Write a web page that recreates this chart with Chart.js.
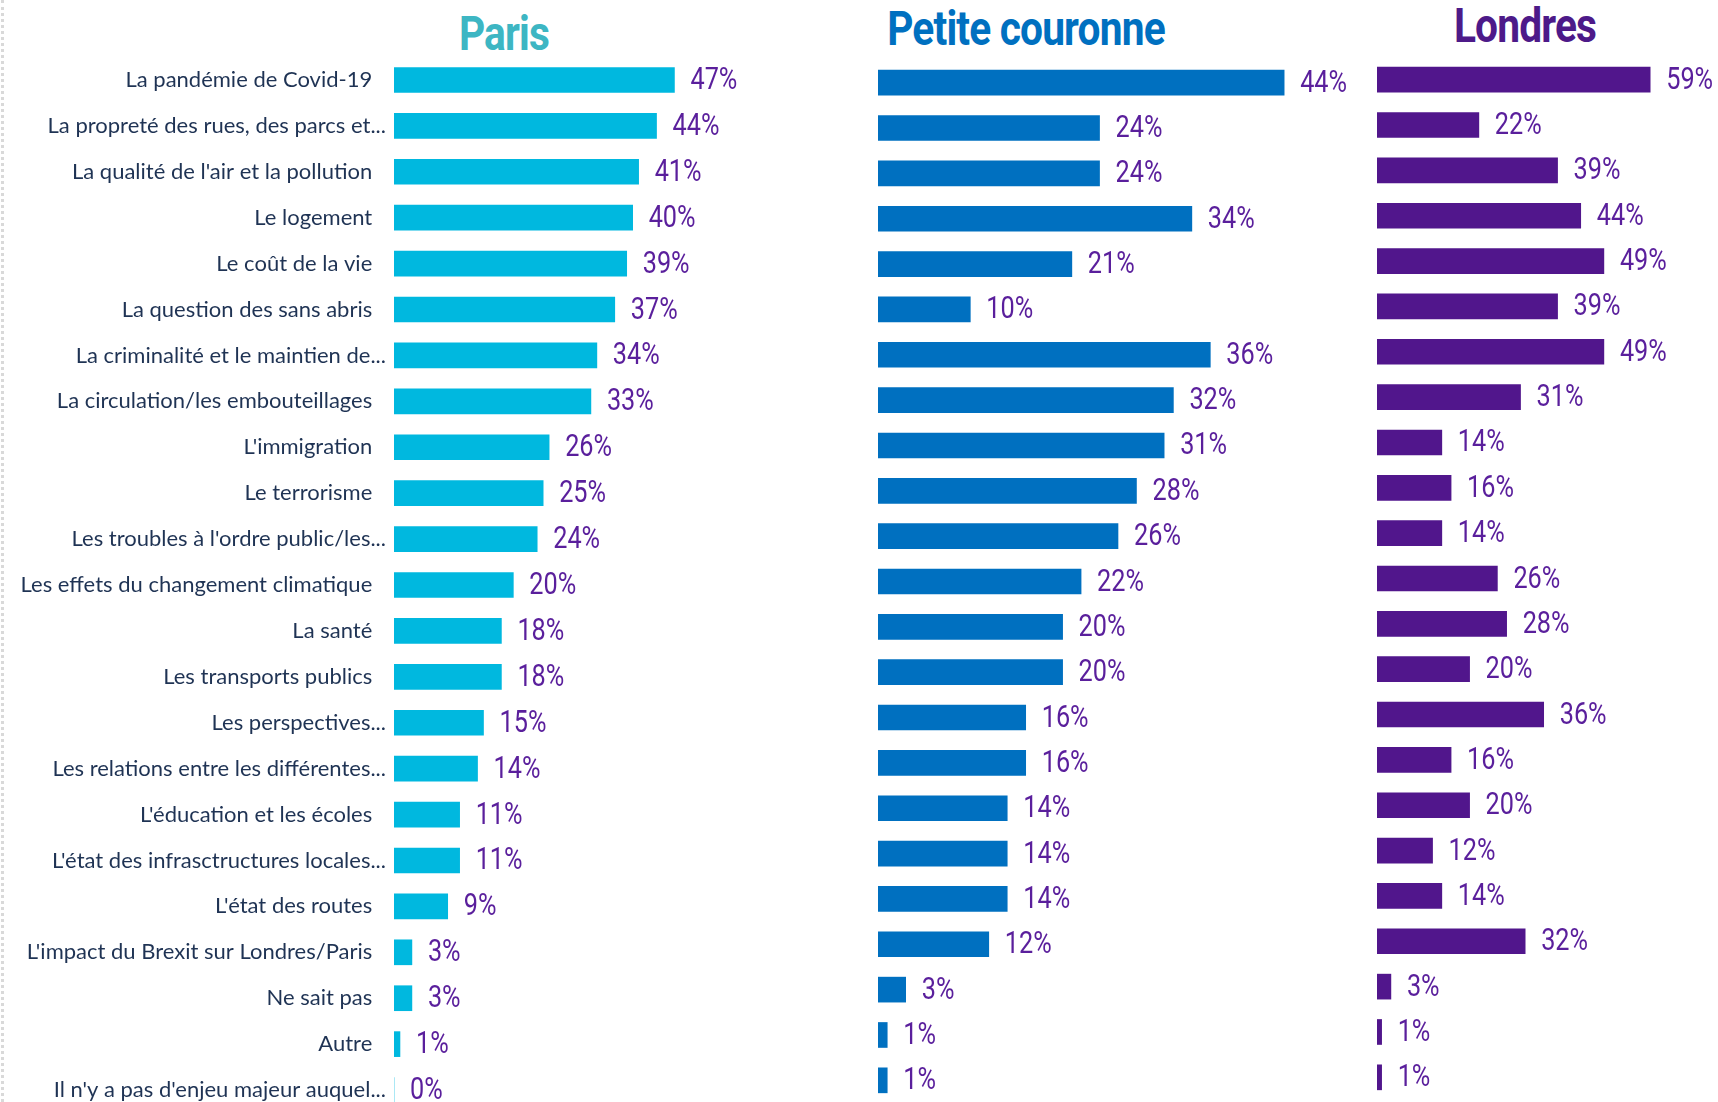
<!DOCTYPE html>
<html lang="fr">
<head>
<meta charset="utf-8">
<script src="https://cdn.jsdelivr.net/npm/chart.js@4.4.0/dist/chart.umd.min.js"></script>
<style>
  html, body { margin: 0; padding: 0; background: #fff; width: 1718px; height: 1102px; overflow: hidden; }
  body { position: relative; }
  .bord { position: absolute; left: 1px; top: 0; bottom: 0; border-left: 3px dotted #d9d9d9; }
  .titre { position: absolute; font-family: Roboto, "DejaVu Sans", sans-serif; font-weight: bold;
           font-size: 49px; line-height: 49px; white-space: nowrap; letter-spacing: -1px;
           transform: translateX(-50%) scaleX(0.83); }
  canvas { position: absolute; }
</style>
</head>
<body>
<div class="bord"></div>
<div class="titre" style="left:504px; top:9px; color:#3DB6C3;">Paris</div>
<div class="titre" style="left:1026px; top:4px; color:#0070C0;">Petite couronne</div>
<div class="titre" style="left:1525px; top:1px; color:#4D1A89;">Londres</div>

<canvas id="cParis" width="752" height="1056" style="left:0px; top:57px;"></canvas>
<canvas id="cPetite" width="480" height="1043" style="left:878px; top:60px;"></canvas>
<canvas id="cLondres" width="338" height="1043" style="left:1377px; top:57px;"></canvas>

<script>
  // Enjeux (libellés tels qu'affichés)
  const enjeux = [
    "La pandémie de Covid-19",
    "La propreté des rues, des parcs et...",
    "La qualité de l'air et la pollution",
    "Le logement",
    "Le coût de la vie",
    "La question des sans abris",
    "La criminalité et le maintien de...",
    "La circulation/les embouteillages",
    "L'immigration",
    "Le terrorisme",
    "Les troubles à l'ordre public/les...",
    "Les effets du changement climatique",
    "La santé",
    "Les transports publics",
    "Les perspectives...",
    "Les relations entre les différentes...",
    "L'éducation et les écoles",
    "L'état des infrasctructures locales...",
    "L'état des routes",
    "L'impact du Brexit sur Londres/Paris",
    "Ne sait pas",
    "Autre",
    "Il n'y a pas d'enjeu majeur auquel..."
  ];

  const valParis   = [47, 44, 41, 40, 39, 37, 34, 33, 26, 25, 24, 20, 18, 18, 15, 14, 11, 11, 9, 3, 3, 1, 0];
  const valPetite  = [44, 24, 24, 34, 21, 10, 36, 32, 31, 28, 26, 22, 20, 20, 16, 16, 14, 14, 14, 12, 3, 1, 1];
  const valLondres = [59, 22, 39, 44, 49, 39, 49, 31, 14, 16, 14, 26, 28, 20, 36, 16, 20, 12, 14, 32, 3, 1, 1];

  const couleurParis = "#00B8DF";
  const couleurPetite = "#0070C0";
  const couleurLondres = "#51168C";

  // étiquettes de valeur au bout des barres (police étroite : on compresse en largeur)
  const etiquettes = {
    id: "etiquettes",
    afterDatasetsDraw(chart) {
      const ctx = chart.ctx;
      const meta = chart.getDatasetMeta(0);
      const donnees = chart.data.datasets[0].data;
      ctx.save();
      ctx.font = "32px Roboto";
      ctx.fillStyle = "#5A1F9C";
      ctx.textAlign = "left";
      ctx.textBaseline = "middle";
      meta.data.forEach((bar, i) => {
        ctx.save();
        ctx.translate(bar.x + 16, bar.y + 1);
        ctx.scale(0.79, 1);
        ctx.fillText(donnees[i] + "%", 0, 0);
        ctx.restore();
      });
      ctx.restore();
    }
  };

  function graphique(id, valeurs, couleur, maxX, avecLibelles) {
    const axeY = {
      display: avecLibelles,
      grid: { display: false, drawTicks: false },
      border: { display: false },
      ticks: {
        padding: 8,
        color: "#1F3354",
        font: { family: "Lato", size: 22 },
        // les libellés tronqués débordent à droite avec leurs "..."
        callback(v) {
          const txt = this.getLabelForValue(v);
          return txt.endsWith("...") ? txt : txt + "\u2002\u2009";
        }
      }
    };
    if (avecLibelles) {
      axeY.afterFit = (scale) => {
        scale.width = 394;
        scale.paddingTop = 0;
        scale.paddingBottom = 0;
      };
    }
    return new Chart(document.getElementById(id), {
      type: "bar",
      data: {
        labels: enjeux,
        datasets: [{
          data: valeurs,
          backgroundColor: couleur,
          barThickness: 25,
          borderWidth: 0
        }]
      },
      options: {
        indexAxis: "y",
        responsive: false,
        animation: false,
        layout: { padding: 0 },
        plugins: {
          legend: { display: false },
          title: { display: false },
          tooltip: { enabled: false }
        },
        scales: {
          x: { display: false, min: 0, max: maxX },
          y: axeY
        }
      },
      plugins: [etiquettes]
    });
  }

  graphique("cParis", valParis, couleurParis, 60, true);
  graphique("cPetite", valPetite, couleurPetite, 52, false);
  graphique("cLondres", valLondres, couleurLondres, 73, false);
</script>
</body>
</html>
